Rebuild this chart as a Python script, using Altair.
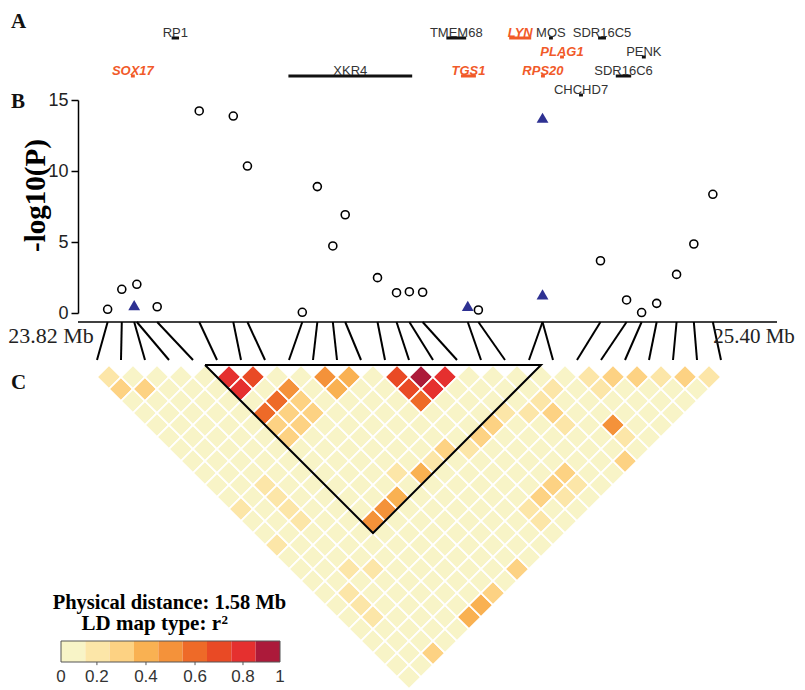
import altair as alt
import pandas as pd

# ---------------- values ----------------
MB_DOMAIN = [23.82, 25.40]          # physical span of the region (Mb)

SNP_POS_MB = [23.887, 23.919, 23.947, 23.953, 23.999, 24.094, 24.171, 24.203,
              24.327, 24.361, 24.396, 24.424, 24.497, 24.540, 24.569, 24.599,
              24.701, 24.725, 24.870, 24.870, 25.001, 25.060, 25.094, 25.128,
              25.173, 25.212, 25.255]
SNP_LOGP = [0.26, 1.67, 0.55, 2.02, 0.44, 14.23, 13.87, 10.35,
            0.05, 8.90, 4.72, 6.92, 2.49, 1.43, 1.50, 1.46,
            0.51, 0.21, 13.75, 1.32, 3.68, 0.92, 0.03, 0.68,
            2.72, 4.86, 8.36]
SNP_SHAPE = ["circle", "circle", "triangle", "circle", "circle", "circle", "circle", "circle",
             "circle", "circle", "circle", "circle", "circle", "circle", "circle", "circle",
             "triangle", "circle", "triangle", "triangle", "circle", "circle", "circle", "circle",
             "circle", "circle", "circle"]

GENE_NAME = ["RP1", "SOX17", "XKR4", "TMEM68", "TGS1", "LYN", "MOS", "RPS20",
             "PLAG1", "CHCHD7", "SDR16C5", "SDR16C6", "PENK"]
GENE_START = [24.035, 23.943, 24.299, 24.656, 24.689, 24.798, 24.888, 24.870,
              24.913, 24.956, 24.999, 25.039, 25.098]
GENE_END = [24.045, 23.945, 24.572, 24.694, 24.716, 24.841, 24.890, 24.872,
            24.915, 24.958, 25.010, 25.067, 25.100]
GENE_ROW = [1, 3, 3, 1, 3, 1, 1, 3, 2, 4, 1, 3, 2]
GENE_HIGHLIGHT = ["n", "y", "n", "n", "y", "y", "n", "y", "y", "n", "n", "n", "n"]

# LD (r^2) cells that are not in the lightest class
LD_I = [1, 1, 2, 6, 7, 6, 8, 7, 6, 8, 7, 8, 6, 7, 6, 10, 11, 10, 13, 14, 15, 13, 14, 13,
        16, 15, 14, 13, 12, 11, 10, 9, 8, 7, 6, 3, 3, 3, 3, 1, 1, 3, 4, 2, 2, 2,
        3, 10, 8, 7, 6, 16, 15, 14, 13, 13, 16, 15,
        21, 22, 23, 24, 25, 26, 19, 21, 18, 17, 18, 18, 20, 20, 19]
LD_J = [2, 3, 4, 7, 8, 8, 10, 10, 10, 11, 11, 12, 11, 12, 12, 11, 12, 12, 14, 15, 16, 15, 16, 16,
        20, 20, 20, 20, 19, 19, 19, 18, 19, 19, 19, 13, 14, 15, 16, 13, 16, 20, 21, 21, 22, 23,
        27, 27, 27, 27, 27, 25, 25, 25, 25, 26, 26, 26,
        22, 23, 24, 25, 26, 27, 21, 23, 21, 21, 22, 23, 25, 26, 27]
LD_R2 = [0.17, 0.28, 0.26, 0.82, 0.72, 0.81, 0.50, 0.62, 0.62, 0.30, 0.30, 0.30, 0.30, 0.30, 0.30,
         0.50, 0.40, 0.40, 0.72, 0.95, 0.83, 0.70, 0.82, 0.62,
         0.17, 0.26, 0.26, 0.16, 0.26, 0.16, 0.42, 0.16, 0.40, 0.50, 0.52,
         0.18, 0.20, 0.18, 0.18, 0.18, 0.18, 0.22, 0.22, 0.20, 0.20, 0.20,
         0.27, 0.24, 0.24, 0.40, 0.40, 0.26, 0.30, 0.30, 0.20, 0.17, 0.15, 0.16,
         0.20, 0.30, 0.30, 0.17, 0.30, 0.18, 0.20, 0.15, 0.20, 0.16, 0.25, 0.18, 0.52, 0.18, 0.26]
LD_OTHER = 0.04                      # every remaining pair reads as the lightest class
LD_BLOCK = [6, 19]                   # outlined haplotype block (first, last SNP)

R2_BREAKS = [0.111, 0.222, 0.333, 0.444, 0.556, 0.667, 0.778, 0.889]
R2_COLORS = ["#F8F4C7", "#FCE6A8", "#FDD283", "#F9B152", "#F4923A",
             "#EE6A28", "#E94A25", "#E5302F", "#AC1A3A"]
R2_CLASS_MID = [0.055, 0.166, 0.277, 0.388, 0.5, 0.611, 0.722, 0.833, 0.944]
LEGEND_TICK_TEXT = ["0", "0.2", "0.4", "0.6", "0.8", "1"]
LEGEND_TICK_AT = [0.0, 0.164, 0.388, 0.612, 0.831, 1.0]

# ---------------- layout (plot-area pixels) ----------------
PAD_LEFT = 70
W, H = 719, 682
MB_PX = [0, 699]
LOGP_PX = [305, 92]
GENE_ROW_PX = [30, 87]
LINK_PX = [314, 352]
HM_X_PX = [19, 643]
HM_Y_PX = [357, 681]
LEG_X_PX = [-17, 202]
LEG_Y_PX = [633, 654]

RED = "#F15A29"
NAVY = "#2E3192"
SERIF = "Liberation Serif"
SANS = "Liberation Sans"

N = len(SNP_POS_MB)


def hm_to_mb(u):
    px = HM_X_PX[0] + (u - 1) / (N - 1) * (HM_X_PX[1] - HM_X_PX[0])
    return MB_DOMAIN[0] + (px - MB_PX[0]) / (MB_PX[1] - MB_PX[0]) * (MB_DOMAIN[1] - MB_DOMAIN[0])


def sc(domain, rng):
    return alt.Scale(domain=domain, range=rng, zero=False, nice=False)


mb_sc = sc(MB_DOMAIN, MB_PX)
logp_sc = sc([0, 15], LOGP_PX)
gene_sc = sc([1, 4], GENE_ROW_PX)
link_sc = sc([0, 1], LINK_PX)
hmx_sc = sc([1, N], HM_X_PX)
hmy_sc = sc([0, N], HM_Y_PX)
legx_sc = sc([0, 1], LEG_X_PX)
legy_sc = sc([0, 1], LEG_Y_PX)
r2_sc = alt.Scale(type="threshold", domain=R2_BREAKS, range=R2_COLORS)

# ---------------- tables ----------------
snp_df = pd.DataFrame({"snp": list(range(1, N + 1)), "pos": SNP_POS_MB,
                       "logp": SNP_LOGP, "shape": SNP_SHAPE})
snp_df["hm_mb"] = [hm_to_mb(k) for k in snp_df["snp"]]
snp_df["top"] = 0.0
snp_df["bot"] = 1.0

gene_df = pd.DataFrame({"name": GENE_NAME, "start": GENE_START, "end": GENE_END,
                        "row": GENE_ROW, "hl": GENE_HIGHLIGHT})
gene_df["mid"] = (gene_df["start"] + gene_df["end"]) / 2

ld_lookup = {(i, j): r for i, j, r in zip(LD_I, LD_J, LD_R2)}
rows = []
for i in range(1, N + 1):
    for j in range(i + 1, N + 1):
        rows.append({"i": i, "j": j, "u": (i + j) / 2, "v": j - i,
                     "r2": ld_lookup.get((i, j), LD_OTHER)})
ld_df = pd.DataFrame(rows)

a, b = LD_BLOCK
block_df = pd.DataFrame({"u": [a - 0.5, b + 0.5, (a + b) / 2, a - 0.5],
                         "v": [0, 0, b - a + 1, 0], "ord": [0, 1, 2, 3]})

axis_df = pd.DataFrame({"start": [MB_DOMAIN[0]], "end": [MB_DOMAIN[1]], "lvl": [0.0]})
end_df = pd.DataFrame({"pos": MB_DOMAIN, "lvl": [0.55, 0.55],
                       "label": ["%.2f Mb" % MB_DOMAIN[0], "%.2f Mb" % MB_DOMAIN[1]]})

bar_df = pd.DataFrame({"lo": [k / 9 for k in range(9)], "hi": [(k + 1) / 9 for k in range(9)],
                       "mid": R2_CLASS_MID, "y0": 0.0, "y1": 1.0})
frame_df = pd.DataFrame({"lo": [0.0], "hi": [1.0], "y0": [0.0], "y1": [1.0]})
tick_df = pd.DataFrame({"at": LEGEND_TICK_AT, "text": LEGEND_TICK_TEXT})
inner_tick_df = tick_df.iloc[1:-1].assign(y0=1.0, y1=1.15)
leg_title_df = pd.DataFrame({"x": [0.495], "y": [601],
                             "text": ["Physical distance: %.2f Mb" % (MB_DOMAIN[1] - MB_DOMAIN[0])]})
leg_sub_df = pd.DataFrame({"x": [0.094], "y": [622], "text": ["LD map type: r"]})
leg_sup_df = pd.DataFrame({"x": [0.733], "y": [616], "text": ["2"]})
letter_df = pd.DataFrame({"x": [-67, -67, -67], "y": [19.5, 100, 381], "text": ["A", "B", "C"]})

X_MB = lambda f: alt.X(f, scale=mb_sc, axis=None)

# ---------------- panel A: genes ----------------
gene_bars = alt.Chart(gene_df).mark_rule(strokeWidth=3, strokeCap="square").encode(
    x=X_MB("start:Q"), x2="end:Q",
    y=alt.Y("row:Q", scale=gene_sc, axis=None),
    color=alt.Color("hl:N", scale=alt.Scale(domain=["y", "n"], range=[RED, "#111111"]), legend=None),
)
gene_txt_black = alt.Chart(gene_df).transform_filter("datum.hl == 'n'").mark_text(
    font=SANS, fontSize=13, color="#333333", baseline="alphabetic", dy=-1.5
).encode(x=X_MB("mid:Q"), y=alt.Y("row:Q", scale=gene_sc, axis=None), text="name:N")
gene_txt_red = alt.Chart(gene_df).transform_filter("datum.hl == 'y'").mark_text(
    font=SANS, fontSize=13, color=RED, fontWeight="bold", fontStyle="italic",
    baseline="alphabetic", dy=-1.5
).encode(x=X_MB("mid:Q"), y=alt.Y("row:Q", scale=gene_sc, axis=None), text="name:N")

# ---------------- panel B: association ----------------
y_axis = alt.Axis(values=[0, 5, 10, 15], grid=False, domainColor="black", domainWidth=1.5,
                  tickColor="black", tickWidth=1.5, tickSize=7, labelFont=SANS, labelFontSize=18,
                  labelColor="#222222", labelPadding=3, title="-log10(P)", titleFont=SERIF,
                  titleFontSize=29, titleFontWeight="bold", titleColor="black", titleAngle=270,
                  titleAlign="center", titleBaseline="middle", titleX=-43, titleY=187)
circles = alt.Chart(snp_df).transform_filter("datum.shape == 'circle'").mark_point(
    shape="circle", filled=False, color="black", strokeWidth=1.6, size=64, opacity=1
).encode(x=X_MB("pos:Q"), y=alt.Y("logp:Q", scale=logp_sc, axis=y_axis))
triangles = alt.Chart(snp_df).transform_filter("datum.shape == 'triangle'").mark_point(
    shape="triangle-up", filled=True, color=NAVY, size=140, opacity=1
).encode(x=X_MB("pos:Q"), y=alt.Y("logp:Q", scale=logp_sc, axis=None))

# ---------------- genomic axis and SNP links ----------------
geno_axis = alt.Chart(axis_df).mark_rule(color="black", strokeWidth=1.5).encode(
    x=X_MB("start:Q"), x2="end:Q", y=alt.Y("lvl:Q", scale=link_sc, axis=None))
links = alt.Chart(snp_df).mark_rule(color="black", strokeWidth=2).encode(
    x=X_MB("pos:Q"), x2="hm_mb:Q",
    y=alt.Y("top:Q", scale=link_sc, axis=None), y2="bot:Q")
end_left = alt.Chart(end_df.iloc[[0]]).mark_text(
    font=SERIF, fontSize=22, align="center", baseline="alphabetic", dx=-27, color="#222222"
).encode(x=X_MB("pos:Q"), y=alt.Y("lvl:Q", scale=link_sc, axis=None), text="label:N")
end_right = alt.Chart(end_df.iloc[[1]]).mark_text(
    font=SERIF, fontSize=21, align="center", baseline="alphabetic", dx=-23, color="#222222"
).encode(x=X_MB("pos:Q"), y=alt.Y("lvl:Q", scale=link_sc, axis=None), text="label:N")

# ---------------- panel C: LD heatmap ----------------
cells = alt.Chart(ld_df).mark_square(size=288, angle=45, stroke="white", strokeWidth=1.6,
                                     opacity=1).encode(
    x=alt.X("u:Q", scale=hmx_sc, axis=None),
    y=alt.Y("v:Q", scale=hmy_sc, axis=None),
    fill=alt.Fill("r2:Q", scale=r2_sc, legend=None),
)
block = alt.Chart(block_df).mark_line(color="black", strokeWidth=2).encode(
    x=alt.X("u:Q", scale=hmx_sc, axis=None),
    y=alt.Y("v:Q", scale=hmy_sc, axis=None),
    order="ord:Q",
)

# ---------------- colour key ----------------
key_bar = alt.Chart(bar_df).mark_rect().encode(
    x=alt.X("lo:Q", scale=legx_sc, axis=None), x2="hi:Q",
    y=alt.Y("y0:Q", scale=legy_sc, axis=None), y2="y1:Q",
    fill=alt.Fill("mid:Q", scale=r2_sc, legend=None),
)
key_frame = alt.Chart(frame_df).mark_rect(filled=False, stroke="#555555", strokeWidth=1).encode(
    x=alt.X("lo:Q", scale=legx_sc, axis=None), x2="hi:Q",
    y=alt.Y("y0:Q", scale=legy_sc, axis=None), y2="y1:Q",
)
key_ticks = alt.Chart(inner_tick_df).mark_rule(color="#555555", strokeWidth=1).encode(
    x=alt.X("at:Q", scale=legx_sc, axis=None),
    y=alt.Y("y0:Q", scale=legy_sc, axis=None), y2="y1:Q",
)
key_labels = alt.Chart(tick_df).mark_text(font=SANS, fontSize=17, color="#333333",
                                          baseline="alphabetic").encode(
    x=alt.X("at:Q", scale=legx_sc, axis=None),
    y=alt.value(674),
    text="text:N",
)
key_title = alt.Chart(leg_title_df).mark_text(font=SERIF, fontSize=20.5, fontWeight="bold",
                                              color="black", baseline="alphabetic").encode(
    x=alt.X("x:Q", scale=legx_sc, axis=None), y=alt.Y("y:Q", scale=None), text="text:N")
key_sub = alt.Chart(leg_sub_df).mark_text(font=SERIF, fontSize=21, fontWeight="bold",
                                          color="black", align="left",
                                          baseline="alphabetic").encode(
    x=alt.X("x:Q", scale=legx_sc, axis=None), y=alt.Y("y:Q", scale=None), text="text:N")
key_sup = alt.Chart(leg_sup_df).mark_text(font=SERIF, fontSize=13, fontWeight="bold",
                                          color="black", align="left",
                                          baseline="alphabetic").encode(
    x=alt.X("x:Q", scale=legx_sc, axis=None), y=alt.Y("y:Q", scale=None), text="text:N")
letters = alt.Chart(letter_df).mark_text(font=SERIF, fontSize=21, fontWeight="bold",
                                         color="#111111", align="left",
                                         baseline="alphabetic").encode(
    x=alt.X("x:Q", scale=None), y=alt.Y("y:Q", scale=None), text="text:N")

chart = alt.layer(
    cells, block, geno_axis, links, circles, triangles,
    gene_bars, gene_txt_black, gene_txt_red, end_left, end_right,
    key_bar, key_frame, key_ticks, key_labels, key_title, key_sub, key_sup, letters,
).resolve_scale(
    x="independent", y="independent", color="independent", fill="independent"
).properties(
    width=W, height=H,
    autosize=alt.AutoSizeParams(type="none"),
    padding={"left": PAD_LEFT, "top": 0, "right": 0, "bottom": 0},
).configure_view(stroke=None)

chart.save("out.html", embed_options={"renderer": "svg", "actions": False})
